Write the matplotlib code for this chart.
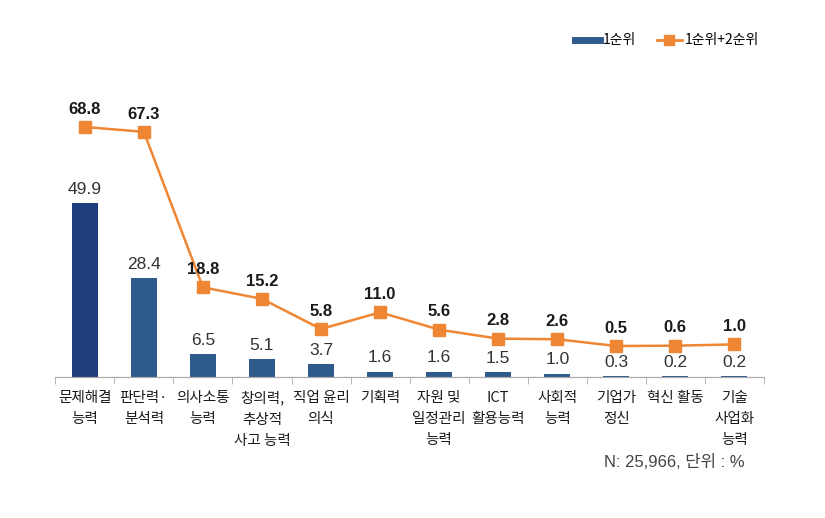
import matplotlib.pyplot as plt
from matplotlib.lines import Line2D
import numpy as np

plt.rcParams['font.family'] = ['Noto Sans CJK KR', 'DejaVu Sans']
num_font = ['Liberation Sans', 'Noto Sans CJK KR']

# 데이터
categories = ['문제해결\n능력', '판단력·\n분석력', '의사소통\n능력', '창의력,\n추상적\n사고 능력',
              '직업 윤리\n의식', '기획력', '자원 및\n일정관리\n능력', 'ICT\n활용능력',
              '사회적\n능력', '기업가\n정신', '혁신 활동', '기술\n사업화\n능력']
rank1 = [49.9, 28.4, 6.5, 5.1, 3.7, 1.6, 1.6, 1.5, 1.0, 0.3, 0.2, 0.2]
rank12 = [68.8, 67.3, 18.8, 15.2, 5.8, 11.0, 5.6, 2.8, 2.6, 0.5, 0.6, 1.0]

bar_colors = ['#1f3c7c'] + ['#2f5b8c'] * 11
line_color = '#ef8633'

fig = plt.figure(figsize=(8.25, 5.18), dpi=100)
ax = fig.add_axes([0.067, 0.272, 0.859, 0.593])
ax2 = ax.twinx()

x = np.arange(len(categories))
ax.bar(x, rank1, width=0.44, color=bar_colors)
for xi, v in zip(x, rank1):
    ax.text(xi, v + 1.8, f'{v:.1f}', ha='center', va='bottom', fontsize=12.5,
            family=num_font, color='#333333')

ax2.plot(x, rank12, color=line_color, lw=1.8, marker='s', markersize=8, clip_on=False)
for xi, v in zip(x, rank12):
    ax2.text(xi, v + 3.2, f'{v:.1f}', ha='center', va='bottom', fontsize=12,
             family=num_font, fontweight='bold', color='#1a1a1a')

ax.set_xlim(-0.5, 11.5)
ax.set_ylim(0, 88)
ax2.set_ylim(-9.2, 86.6)

ax.set_xticks(x)
ax.set_xticklabels(categories, fontsize=10.5, color='#1a1a1a', linespacing=1.65)
ax.set_xticks(np.arange(-0.5, 12, 1), minor=True)
ax.tick_params(axis='x', which='major', length=0, pad=10)
ax.tick_params(axis='x', which='minor', length=5, color='#aaaaaa', direction='out')
ax.set_yticks([])
ax2.set_yticks([])
for a in (ax, ax2):
    for s in ('top', 'right', 'left'):
        a.spines[s].set_visible(False)
    a.spines['bottom'].set_color('#aaaaaa')

handles = [Line2D([], [], color='#2f5b8c', lw=5),
           Line2D([], [], color=line_color, lw=2, marker='s', markersize=7)]
fig.legend(handles, ['1순위', '1순위+2순위'], loc='center right', bbox_to_anchor=(0.935, 0.922),
           ncol=2, frameon=False, fontsize=10, handlelength=1.8, columnspacing=1.5,
           handletextpad=0.2)

fig.text(0.903, 0.108, 'N: 25,966, 단위 : %', ha='right', va='center', fontsize=12,
         family=num_font, color='#444444')

fig.savefig('out.png', dpi=100)
